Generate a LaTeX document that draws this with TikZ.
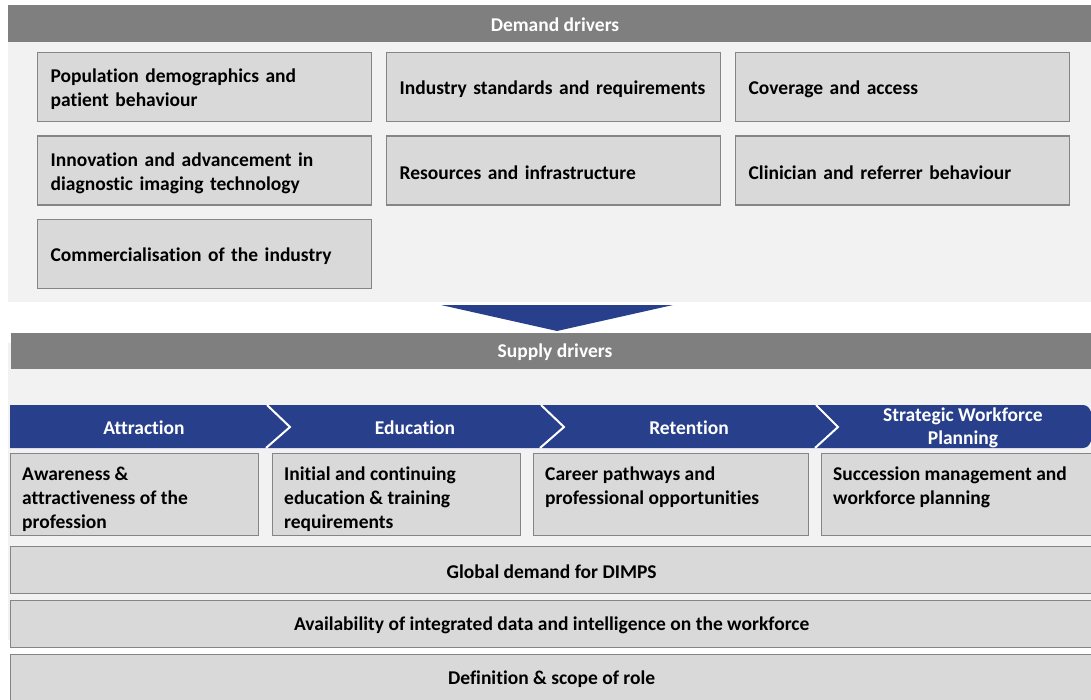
\documentclass[tikz,border=0pt]{standalone}
\usepackage{fontspec}
\setmainfont{Carlito}[Ligatures=NoCommon]
\definecolor{bandgray}{HTML}{7F7F7F}
\definecolor{panelgray}{HTML}{F2F2F2}
\definecolor{boxfill}{HTML}{D9D9D9}
\definecolor{boxline}{HTML}{858585}
\definecolor{navy}{HTML}{283F8B}
\begin{document}
\begin{tikzpicture}[x=1pt,y=-1pt,
  txt/.style={font=\fontsize{19.5}{24}\selectfont\bfseries},
  bar/.style={fill=bandgray,draw=none},
  bartitle/.style={txt,text=white,inner sep=0},
  dbox/.style={draw=boxline,fill=boxfill,line width=1.3pt,anchor=north west,
    minimum height=69,minimum width=334,inner sep=0},
  dtext/.style={txt,text width=308,inner sep=0,align=left},
  sbox/.style={draw=boxline,fill=boxfill,line width=1.3pt,anchor=north west,
    minimum height=82,inner sep=0},
  stext/.style={txt,anchor=north west,inner sep=0,align=left,execute at begin node={\strut}},
  wbox/.style={draw=boxline,fill=boxfill,line width=1.3pt,anchor=north west,
    minimum width=1082,minimum height=47,inner sep=0},
  wtext/.style={txt,inner sep=0},
  chevlabel/.style={txt,text=white,inner sep=0,align=center,font=\fontsize{19.5}{23}\selectfont\bfseries},
  sep/.style={draw=white,line width=2pt}]
\useasboundingbox (0,0) rectangle (1091,700);
% demand panel
\fill[panelgray] (8,42) rectangle (1091,302);
\fill[bar] (8,5) rectangle (1091,42);
\node[bartitle] (dtitle) at (555,24.5) {Demand drivers};
\node[dbox] (d1) at (37,52) {};
\node[dbox] (d2) at (386,52) {};
\node[dbox] (d3) at (735,52) {};
\node[dbox] (d4) at (37,135.5) {};
\node[dbox] (d5) at (386,135.5) {};
\node[dbox] (d6) at (735,135.5) {};
\node[dbox] (d7) at (37,219) {};
\node[dtext] (d1t) at ([yshift=-2.5pt]d1.center) {Population demographics and\\patient behaviour};
\node[dtext] (d2t) at ([yshift=-2.5pt]d2.center) {Industry standards and requirements};
\node[dtext] (d3t) at ([yshift=-2.5pt]d3.center) {Coverage and access};
\node[dtext] (d4t) at ([yshift=-2.5pt]d4.center) {Innovation and advancement in\\diagnostic imaging technology};
\node[dtext] (d5t) at ([yshift=-2.5pt]d5.center) {Resources and infrastructure};
\node[dtext] (d6t) at ([yshift=-2.5pt]d6.center) {Clinician and referrer behaviour};
\node[dtext] (d7t) at ([yshift=-2.5pt]d7.center) {Commercialisation of the industry};
% arrow
\coordinate (al) at (441,305);
\coordinate (ar) at (673,305);
\coordinate (ap) at (557,331);
\fill[navy] (al) -- (ar) -- (ap) -- cycle;
% supply panel
\fill[panelgray] (8,343) rectangle (1091,640);
\fill[bar] (11,333) rectangle (1091,369);
\node[bartitle] (stitle) at (555,352.5) {Supply drivers};
% chevrons
\fill[navy] (10,405) -- (1082,405) .. controls (1087,405) and (1089,407) .. (1091,412)
  -- (1091,441) .. controls (1089,446) and (1087,448) .. (1082,448) -- (10,448) -- cycle;
\coordinate (c1t) at (267,405); \coordinate (c1m) at (290,427); \coordinate (c1b) at (266,448);
\coordinate (c2t) at (541,405); \coordinate (c2m) at (564,427); \coordinate (c2b) at (540,448);
\coordinate (c3t) at (816,405); \coordinate (c3m) at (838,427); \coordinate (c3b) at (815,448);
\draw[sep] (c1t) -- (c1m) -- (c1b);
\draw[sep] (c2t) -- (c2m) -- (c2b);
\draw[sep] (c3t) -- (c3m) -- (c3b);
\node[chevlabel] (h1) at (144,428) {Attraction};
\node[chevlabel] (h2) at (415,428) {Education};
\node[chevlabel] (h3) at (689,428) {Retention};
\node[chevlabel] (h4) at (963,427.5) {Strategic Workforce\\Planning};
% supply boxes
\node[sbox,minimum width=248] (s1) at (10,453) {};
\node[sbox,minimum width=248] (s2) at (272,453) {};
\node[sbox,minimum width=275] (s3) at (533,453) {};
\node[sbox,minimum width=275] (s4) at (821,453) {};
\node[stext] (t1) at ([xshift=12pt,yshift=-13.5pt]s1.north west) {Awareness \&\\attractiveness of the\\profession};
\node[stext] (t2) at ([xshift=12pt,yshift=-13.5pt]s2.north west) {Initial and continuing\\education \& training\\requirements};
\node[stext] (t3) at ([xshift=12pt,yshift=-13.5pt]s3.north west) {Career pathways and\\professional opportunities};
\node[stext] (t4) at ([xshift=12pt,yshift=-13.5pt]s4.north west) {Succession management and\\workforce planning};
% wide boxes
\node[wbox] (w1) at (10,546) {};
\node[wbox] (w2) at (10,600) {};
\node[wbox] (w3) at (10,654) {};
\node[wtext] (w1t) at ([yshift=-1.5pt]w1.center) {Global demand for DIMPS};
\node[wtext] (w2t) at ([yshift=-1.5pt]w2.center) {Availability of integrated data and intelligence on the workforce};
\node[wtext] (w3t) at ([yshift=-1.5pt]w3.center) {Definition \& scope of role};
\end{tikzpicture}
\end{document}
